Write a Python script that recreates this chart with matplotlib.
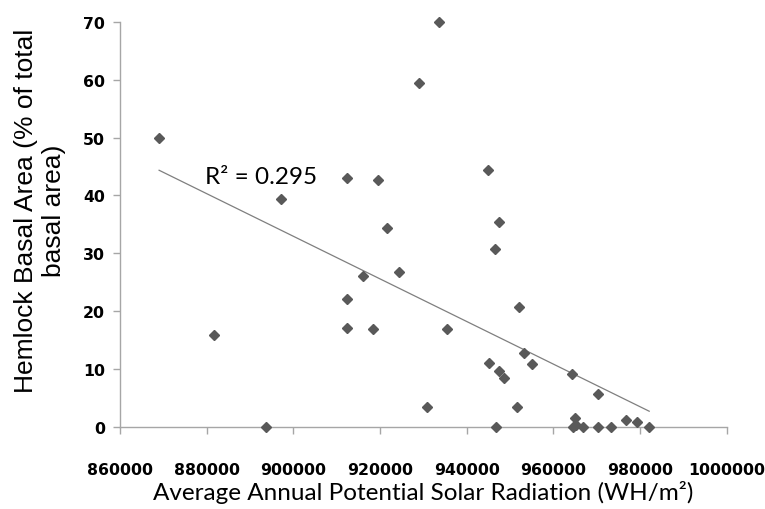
import matplotlib
matplotlib.use("Agg")
import matplotlib.pyplot as plt
import numpy as np

# solar radiation (WH/m2) vs hemlock basal area (%)
solar = [869000, 881700, 893700, 897200, 912400, 912400, 912400, 916100,
         918400, 919600, 921700, 924300, 929000, 930900, 933700, 935400,
         945000, 945200, 946500, 946700, 947500, 947500, 948600, 951700,
         952100, 953200, 955000, 964200, 964600, 964900, 965300, 966900,
         970300, 970300, 973200, 976800, 979400, 982100]
hemlock = [50.0, 15.9, 0.0, 39.4, 43.1, 22.1, 17.1, 26.0,
           16.9, 42.7, 34.4, 26.7, 59.5, 3.4, 70.0, 16.9,
           44.4, 11.1, 30.8, 0.0, 35.4, 9.6, 8.4, 3.5,
           20.8, 12.7, 10.8, 9.2, 0.0, 1.6, 0.3, 0.0,
           5.6, 0.0, 0.0, 1.2, 0.8, 0.0]
r2_label = "R\u00b2 = 0.295"

x_ticks = np.arange(860000, 1000001, 20000)
y_ticks = np.arange(0, 71, 10)


def main():
    fig = plt.figure(figsize=(7.65, 5.1), dpi=100)
    ax = fig.add_axes([0.157, 0.161, 0.793, 0.794])

    x = np.array(solar)
    y = np.array(hemlock)
    ax.plot(x, y, linestyle='none', marker='D', markersize=5.6,
            color='#595959', markeredgecolor='#595959', clip_on=False,
            zorder=3)

    # linear trendline across the data range
    slope, icpt = np.polyfit(x, y, 1)
    xt = np.array([x.min(), x.max()])
    ax.plot(xt, slope * xt + icpt, color='#7f7f7f', linewidth=0.9)

    ax.text(879600, 43.3, r2_label, fontsize=17.5, family='Lato',
            ha='left', va='center', color='black')

    ax.set_xlim(860000, 1000000)
    ax.set_ylim(0, 70)
    ax.set_xticks(x_ticks)
    ax.set_yticks(y_ticks)
    ax.set_xticklabels([str(v) for v in x_ticks])
    ax.set_yticklabels([str(v) for v in y_ticks])

    for sp in ['top', 'right']:
        ax.spines[sp].set_visible(False)
    for sp in ['left', 'bottom']:
        ax.spines[sp].set_color('#a6a6a6')
        ax.spines[sp].set_linewidth(1)
    ax.tick_params(axis='both', colors='#a6a6a6', length=5, width=1,
                   labelcolor='black', direction='out')
    ax.tick_params(axis='x', pad=20)
    ax.tick_params(axis='y', pad=6)
    for lab in ax.get_xticklabels() + ax.get_yticklabels():
        lab.set_family(['Liberation Sans Narrow', 'DejaVu Sans'])
        lab.set_fontweight('bold')
        lab.set_fontsize(11.3)

    fig.text(0.5 * (120 + 727) / 765, 493 / 510 * -1 + 1,
             "Average Annual Potential Solar Radiation (WH/m\u00b2)",
             fontsize=17.5, family='Lato', ha='center', va='center')
    fig.text(40 / 765, 1 - 211 / 510,
             "Hemlock Basal Area (% of total\nbasal area)",
             fontsize=19, family='Liberation Sans', rotation=90,
             ha='center', va='center', multialignment='center',
             linespacing=1.25)

    fig.savefig("out.png", dpi=100)


if __name__ == "__main__":
    main()
